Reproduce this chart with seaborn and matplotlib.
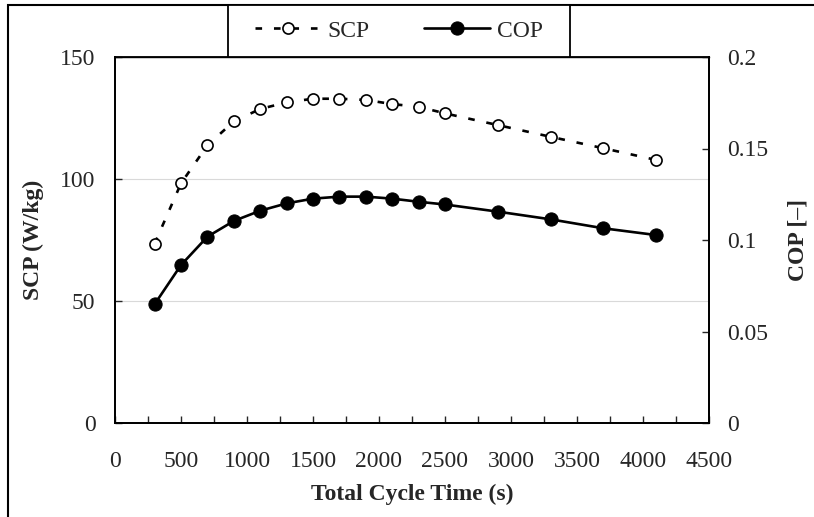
import matplotlib
matplotlib.use("Agg")
import matplotlib.pyplot as plt
from matplotlib.patches import Rectangle
from matplotlib.ticker import MultipleLocator
import seaborn as sns
import pandas as pd

cycle_time = [300, 500, 700, 900, 1100, 1300, 1500, 1700, 1900, 2100, 2300, 2500, 2900, 3300, 3700, 4100]
scp = [73.5, 98.2, 113.8, 123.6, 128.7, 131.4, 132.9, 132.9, 132.4, 130.7, 129.6, 126.9, 122.1, 117.3, 112.6, 107.8]
cop = [0.0649, 0.0863, 0.1018, 0.1104, 0.1160, 0.1200, 0.1226, 0.1237, 0.1237, 0.1226, 0.1209, 0.1194, 0.1155, 0.1113, 0.1064, 0.1027]

x_ticks = [0, 500, 1000, 1500, 2000, 2500, 3000, 3500, 4000, 4500]
y1_ticks = [0, 50, 100, 150]
y2_ticks = [0, 0.05, 0.1, 0.15, 0.2]
y2_labels = ["0", "0.05", "0.1", "0.15", "0.2"]

df = pd.DataFrame({"t": cycle_time, "SCP": scp, "COP": cop})

sns.set_style("white")
plt.rcParams["font.family"] = ["Liberation Serif", "DejaVu Serif"]

W, H = 814, 517
fig = plt.figure(figsize=(W / 100, H / 100), dpi=100)
ax = fig.add_axes([115 / W, 1 - 423 / H, (709 - 115) / W, (423 - 57) / H])
ax2 = ax.twinx()

fs = 17
sns.lineplot(data=df, x="t", y="SCP", ax=ax, color="black", lw=1.9,
             marker="o", markersize=8, markerfacecolor="white",
             markeredgecolor="black", markeredgewidth=1.2, label="SCP", legend=False)
ax.lines[-1].set_linestyle((0, (2.5, 4.5)))
sns.lineplot(data=df, x="t", y="COP", ax=ax2, color="black", lw=1.9,
             marker="o", markersize=9.5, markerfacecolor="black",
             markeredgecolor="black", label="COP", legend=False)

ax.set_xlim(0, 4500)
ax.set_ylim(0, 150)
ax2.set_ylim(0, 0.2)
ax.set_xticks(x_ticks)
ax.xaxis.set_minor_locator(MultipleLocator(250))
ax.set_yticks(y1_ticks)
ax2.set_yticks(y2_ticks)
ax2.set_yticklabels(y2_labels)

for a in (ax, ax2):
    for s in a.spines.values():
        s.set_visible(True)
        s.set_color("black")
        s.set_linewidth(1.3)
ax.spines["top"].set_linewidth(1.0)

ax.tick_params(axis="x", which="both", direction="in", length=5, width=1, pad=20,
               labelsize=fs, bottom=True)
ax.tick_params(axis="y", direction="in", length=5, width=1, pad=14, labelsize=fs, left=True)
ax2.tick_params(axis="y", direction="in", length=5, width=1, pad=13, labelsize=fs, right=True)

ax.grid(False)
ax2.grid(False)
for yv in [50, 100]:
    ax.axhline(yv, color="#d9d9d9", lw=0.8, zorder=0)

ax.set_xlabel("Total Cycle Time (s)", fontsize=fs, fontweight="bold", labelpad=9)
ax.set_ylabel("SCP (W/kg)", fontsize=fs, fontweight="bold", labelpad=12)
ax2.set_ylabel("COP [–]", fontsize=fs, fontweight="bold", labelpad=14)

# figure border
fig.patches.append(Rectangle((8 / W, -0.1), 1.2, 1 - 5 / H + 0.1, transform=fig.transFigure,
                             fill=False, edgecolor="black", lw=1.5, zorder=0))
# legend box
lx0, lx1, ly0, ly1 = 228 / W, 570 / W, 1 - 57 / H, 1 - 5 / H
fig.patches.append(Rectangle((lx0, ly0), lx1 - lx0, ly1 - ly0, transform=fig.transFigure,
                             facecolor="white", edgecolor="black", lw=1.3, zorder=1))
handles = [ax.lines[0], ax2.lines[0]]
leg = fig.legend(handles, ["SCP", "COP"], loc="center",
                 bbox_to_anchor=((lx0 + lx1) / 2, (ly0 + ly1) / 2), ncol=2,
                 frameon=False, fontsize=fs, handlelength=2.8, handletextpad=0.3,
                 columnspacing=2.3)

fig.savefig("out.png", dpi=100)
